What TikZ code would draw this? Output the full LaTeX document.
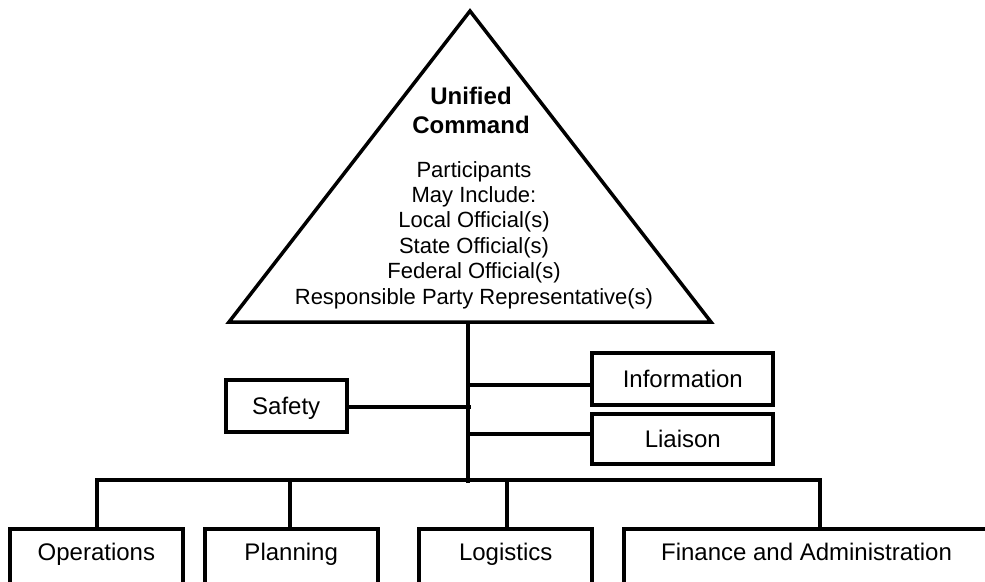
\documentclass[tikz,border=0pt]{standalone}
\usepackage{fontspec}
\setmainfont{Liberation Sans}
\begin{document}
\begin{tikzpicture}[x=1pt,y=-1pt,
  boxfont/.style={font=\fontsize{24}{28}\selectfont},
  smallbox/.style={draw, line width=4pt, boxfont, inner xsep=0pt, inner ysep=0pt,
    text height=17.2pt, text depth=0pt, anchor=center},
  bottombox/.style={draw, line width=4pt, boxfont, inner xsep=0pt, inner ysep=14.3pt,
    text height=17.2pt, text depth=32pt, anchor=north},
  conn/.style={line width=4.3pt},
  tri/.style={line width=3.5pt, line join=miter},
  titletext/.style={font=\fontsize{24}{28}\selectfont\bfseries, anchor=base, inner sep=0pt},
  listtext/.style={font=\fontsize{22}{25}\selectfont, anchor=base, inner sep=0pt}]
\useasboundingbox (0,0) rectangle (985,581);
\clip (0,0) rectangle (985,581);
\fill[white] (0,0) rectangle (985,581);

% Unified command triangle
\coordinate (apex) at (470,11);
\coordinate (bl) at (229,322);
\coordinate (br) at (711,322);
\draw[tri] (bl) -- (apex) -- (br) -- cycle;
\node[titletext] (t1) at (471,104.6) {Unified};
\node[titletext] (t2) at (471,133.6) {Command};
\node[listtext] (l1) at (474,177) {Participants};
\node[listtext] (l2) at (474,202.4) {May Include:};
\node[listtext] (l3) at (474,227.8) {Local Official(s)};
\node[listtext] (l4) at (474,253.2) {State Official(s)};
\node[listtext] (l5) at (474,278.6) {Federal Official(s)};
\node[listtext] (l6) at (474,304) {Responsible Party Representative(s)};

% staff boxes
\node[smallbox, minimum width=181pt, minimum height=52pt] (info) at (682.8,379) {Information};
\node[smallbox, minimum width=181pt, minimum height=50pt] (liaison) at (682.8,439) {Liaison};
\node[smallbox, minimum width=121pt, minimum height=52pt] (safety) at (286.2,406) {Safety};

% general staff boxes
\node[bottombox, minimum width=173.8pt] (ops) at (96.4,527) {Operations};
\node[bottombox, minimum width=173pt] (plan) at (291.2,527) {Planning};
\node[bottombox, minimum width=172.7pt] (log) at (505.7,527) {Logistics};
\node[bottombox, minimum width=365pt] (fin) at (806.5,527) {Finance and Administration};

% stem
\coordinate (stemtop) at (467.7,322);
\coordinate (stembot) at (467.7,482.7);
\draw[conn] (stemtop) -- (stembot);

% staff connectors
\coordinate (infoj) at (467.7,385);
\coordinate (liaisonj) at (467.7,434);
\coordinate (safetyj) at (470.7,406.7);
\draw[conn] (infoj) -- (infoj -| info.west);
\draw[conn] (liaisonj) -- (liaisonj -| liaison.west);
\draw[conn] (safety.east |- safetyj) -- (safetyj);

% bus and drops
\coordinate (busL) at (97.3,480);
\coordinate (busR) at (820,480);
\coordinate (dplan) at (290,480);
\coordinate (dlog) at (506.7,480);
\draw[conn, line join=miter] (busL |- ops.north) -- (busL) -- (busR) -- (busR |- fin.north);
\draw[conn] (dplan) -- (dplan |- plan.north);
\draw[conn] (dlog) -- (dlog |- log.north);
\end{tikzpicture}
\end{document}
